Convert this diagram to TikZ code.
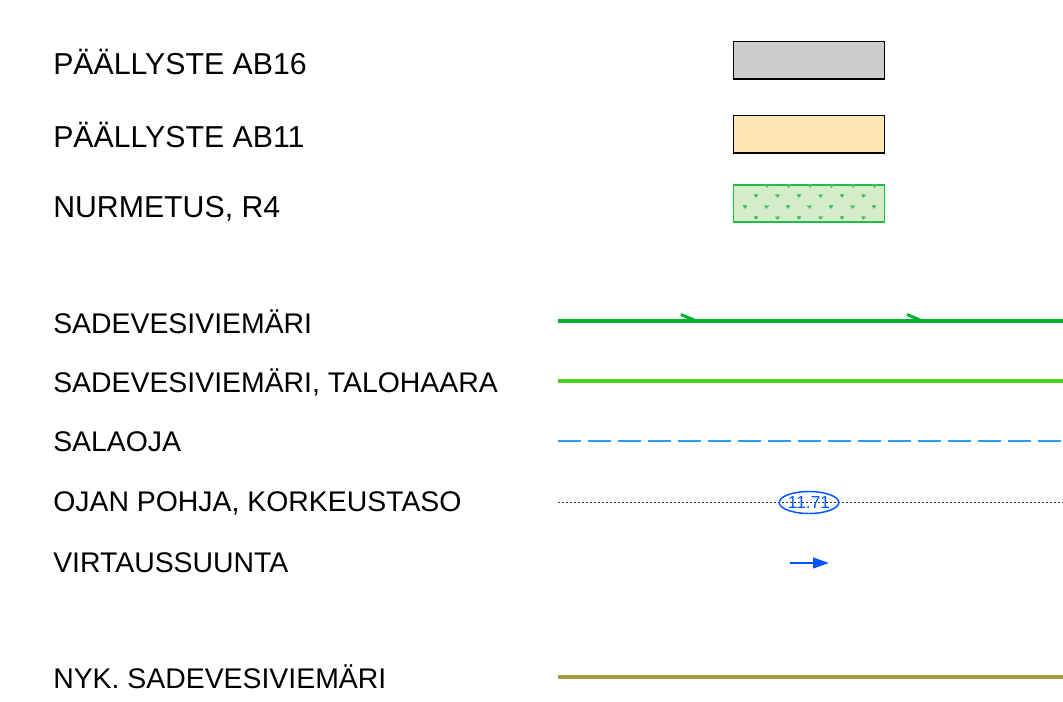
\documentclass[tikz,border=0pt]{standalone}
\usepackage{fontspec}
\setmainfont{Liberation Sans}
\usetikzlibrary{arrows.meta,shapes.geometric}
\definecolor{pgray}{HTML}{CCCCCC}
\definecolor{ptan}{HTML}{FFE5B4}
\definecolor{pgfill}{HTML}{D4ECCA}
\definecolor{pgline}{HTML}{22BB44}
\definecolor{pgmark}{HTML}{44C060}
\definecolor{sv}{HTML}{00B030}
\definecolor{svt}{HTML}{4CD020}
\definecolor{sala}{HTML}{2A9DF4}
\definecolor{blu}{HTML}{0055FF}
\definecolor{olive}{HTML}{A0A040}
\tikzset{
  lbig/.style={anchor=west, inner sep=0pt, font=\fontsize{22.7}{26}\selectfont},
  lsmall/.style={anchor=west, inner sep=0pt, font=\fontsize{21.3}{24}\selectfont},
  swatch/.style={draw=black, line width=1.1pt},
}
\begin{document}
\begin{tikzpicture}[x=0.75pt,y=-0.75pt]
\useasboundingbox (0,0) rectangle (1063,702);
% labels
\node[lbig] (t1) at (53,62) {PÄÄLLYSTE AB16};
\node[lbig] (t2) at (53,135) {PÄÄLLYSTE AB11};
\node[lbig] (t3) at (53,209) {NURMETUS, R4};
\node[lsmall] (t4) at (53,322) {SADEVESIVIEMÄRI};
\node[lsmall] (t5) at (53,382) {SADEVESIVIEMÄRI, TALOHAARA};
\node[lsmall] (t6) at (53,442) {SALAOJA};
\node[lsmall] (t7) at (53,503) {OJAN POHJA, KORKEUSTASO};
\node[lsmall] (t8) at (53,563) {VIRTAUSSUUNTA};
\node[lsmall] (t9) at (53,677) {NYK. SADEVESIVIEMÄRI};
% swatches
\draw[swatch, fill=pgray] (733.5,41.5) rectangle (884.5,79);
\draw[swatch, fill=ptan] (733.5,115.5) rectangle (884.5,153);
\draw[draw=pgline, line width=0.9pt, fill=pgfill] (733.5,185) rectangle (884.5,222);
\foreach \r/\y/\o in {0/186/767,1/196/756,2/207/745,3/218/756}{
  \foreach \i in {0,...,6}{
    \pgfmathsetmacro{\xx}{\o+21.5*\i}
    \ifdim \xx pt<884pt
    \draw[pgmark, line width=0.8pt] (\xx-2,\y-1.5) -- (\xx,\y+1) -- (\xx+2,\y-1.5);
    \draw[pgmark, line width=0.8pt] (\xx,\y-1.8) -- (\xx,\y+1);
    \fi
  }
}
% lines
\coordinate (a1) at (558,321); \coordinate (a2) at (1063,321);
\draw[sv, line width=2.3pt] (a1) -- (a2);
\draw[sv, line width=2.3pt] (681,314.5) -- (695,320.5);
\draw[sv, line width=2.3pt] (907,314.5) -- (921,320.5);
\coordinate (b1) at (558,381); \coordinate (b2) at (1063,381);
\draw[svt, line width=2.3pt] (b1) -- (b2);
\coordinate (c1) at (558,441); \coordinate (c2) at (1063,441);
\draw[sala, line width=2.1pt, dash pattern=on 17.25pt off 5.25pt] (c1) -- (c2);
\coordinate (d1) at (558,502); \coordinate (d2) at (1063,502);
\draw[black!80, line width=0.6pt, dash pattern=on 1.8pt off 1.2pt] (d1) -- (d2);
\node[draw=blu, ellipse, line width=1.1pt, minimum width=55*0.75pt, minimum height=22*0.75pt, inner sep=0pt, text=blu, font=\fontsize{13}{14}\selectfont] (el) at (809,502.5) {11.71};
\coordinate (e1) at (790,563); \coordinate (e2) at (829,563);
\draw[blu, line width=1.7pt, -{Stealth[length=12pt,width=8pt,inset=0pt]}] (e1) -- (e2);
\coordinate (f1) at (558,677); \coordinate (f2) at (1063,677);
\draw[olive, line width=2.3pt] (f1) -- (f2);
\end{tikzpicture}
\end{document}
